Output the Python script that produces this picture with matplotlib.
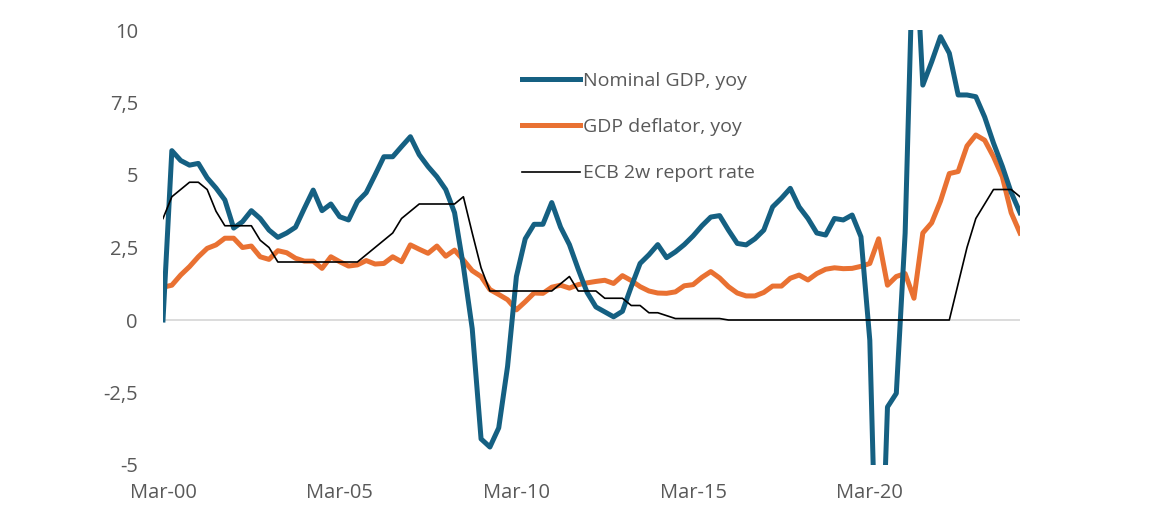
import numpy as np
import pandas as pd
import matplotlib
matplotlib.use("Agg")
import matplotlib.pyplot as plt

plt.rcParams['font.family'] = ['Open Sans', 'DejaVu Sans']

# quarterly, Mar-00 .. Jun-24
quarters = pd.date_range('2000-03-31', periods=98, freq='QE')

nominal_gdp = [
    0.0, 5.84, 5.5, 5.34, 5.4, 4.9, 4.55, 4.14, 3.17, 3.39,
    3.77, 3.5, 3.1, 2.85, 3.0, 3.2, 3.85, 4.48, 3.77, 4.0,
    3.56, 3.45, 4.08, 4.39, 5.0, 5.63, 5.63, 5.98, 6.32, 5.7,
    5.29, 4.94, 4.5, 3.7, 1.85, -0.3, -4.1, -4.38, -3.72, -1.6,
    1.5, 2.8, 3.3, 3.3, 4.05, 3.2, 2.6, 1.75, 0.95, 0.45,
    0.28, 0.11, 0.3, 1.15, 1.95, 2.25, 2.6, 2.15, 2.35, 2.6,
    2.9, 3.25, 3.55, 3.6, 3.1, 2.64, 2.59, 2.8, 3.1, 3.9,
    4.2, 4.54, 3.9, 3.5, 3.0, 2.93, 3.5, 3.45, 3.62, 2.87,
    -0.7, -12.0, -3.0, -2.53, 3.0, 14.0, 8.1, 8.9, 9.77, 9.2,
    7.76, 7.76, 7.7, 7.0, 6.1, 5.3, 4.4, 3.7,
]

gdp_deflator = [
    1.13, 1.2, 1.55, 1.84, 2.18, 2.47, 2.59, 2.82, 2.82, 2.5,
    2.55, 2.18, 2.09, 2.39, 2.32, 2.13, 2.03, 2.03, 1.78, 2.18,
    2.01, 1.86, 1.9, 2.05, 1.93, 1.95, 2.18, 2.01, 2.59, 2.44,
    2.3, 2.55, 2.2, 2.41, 2.07, 1.7, 1.5, 1.05, 0.88, 0.7,
    0.35, 0.63, 0.93, 0.92, 1.13, 1.2, 1.1, 1.22, 1.28, 1.33,
    1.37, 1.26, 1.53, 1.36, 1.15, 1.0, 0.93, 0.92, 0.97, 1.18,
    1.22, 1.47, 1.67, 1.45, 1.15, 0.93, 0.83, 0.83, 0.95, 1.17,
    1.17, 1.44, 1.55, 1.38, 1.6, 1.75, 1.8, 1.77, 1.78, 1.85,
    1.95, 2.8, 1.2, 1.5, 1.6, 0.75, 3.0, 3.35, 4.1, 5.05,
    5.12, 6.0, 6.38, 6.2, 5.63, 4.94, 3.7, 3.0,
]

ecb_rate = [
    3.5, 4.25, 4.5, 4.75, 4.75, 4.5, 3.75, 3.25, 3.25, 3.25,
    3.25, 2.75, 2.5, 2.0, 2.0, 2.0, 2.0, 2.0, 2.0, 2.0,
    2.0, 2.0, 2.0, 2.25, 2.5, 2.75, 3.0, 3.5, 3.75, 4.0,
    4.0, 4.0, 4.0, 4.0, 4.25, 3.0, 1.8, 1.0, 1.0, 1.0,
    1.0, 1.0, 1.0, 1.0, 1.0, 1.25, 1.5, 1.0, 1.0, 1.0,
    0.75, 0.75, 0.75, 0.5, 0.5, 0.25, 0.25, 0.15, 0.05, 0.05,
    0.05, 0.05, 0.05, 0.05, 0.0, 0.0, 0.0, 0.0, 0.0, 0.0,
    0.0, 0.0, 0.0, 0.0, 0.0, 0.0, 0.0, 0.0, 0.0, 0.0,
    0.0, 0.0, 0.0, 0.0, 0.0, 0.0, 0.0, 0.0, 0.0, 0.0,
    1.25, 2.5, 3.5, 4.0, 4.5, 4.5, 4.5, 4.25,
]

y_ticks = [-5, -2.5, 0, 2.5, 5, 7.5, 10]
y_labels = ['-5', '-2,5', '0', '2,5', '5', '7,5', '10']

x = np.arange(len(quarters))
x_ticks = x[::20]
x_labels = quarters[::20].strftime('%b-%y')

grey = '#595959'

fig = plt.figure(figsize=(11.76, 5.26), dpi=100)
ax = fig.add_axes([163 / 1176, 1 - 465 / 526, (1020 - 163) / 1176, 435 / 526])

ax.axhline(0, color='#d9d9d9', lw=1.3, zorder=0)
ax.plot(x, nominal_gdp, color='#156082', lw=3.6, label='Nominal GDP, yoy',
        solid_joinstyle='round', zorder=3)
ax.plot(x, gdp_deflator, color='#e97132', lw=3.6, label='GDP deflator, yoy',
        solid_joinstyle='round', zorder=2)
ax.plot(x, ecb_rate, color='black', lw=1.2, label='ECB 2w report rate', zorder=4)

ax.set_xlim(0, len(x) - 1)
ax.set_ylim(-5, 10)
ax.set_yticks(y_ticks)
ax.set_yticklabels(y_labels)
ax.set_xticks(x_ticks)
ax.set_xticklabels(x_labels)
ax.tick_params(axis='y', length=0, pad=18, labelsize=14.5, labelcolor=grey)
ax.tick_params(axis='x', length=0, pad=13, labelsize=14.5, labelcolor=grey)
for s in ax.spines.values():
    s.set_visible(False)

leg = ax.legend(loc='upper left', bbox_to_anchor=(522 / 1176, 1 - 72 / 526),
                bbox_transform=fig.transFigure, frameon=False, fontsize=14,
                handlelength=3.0, handletextpad=0.15, labelspacing=1.45,
                borderpad=0, borderaxespad=0)
for t in leg.get_texts():
    t.set_color(grey)

fig.savefig('out.png', dpi=100)
